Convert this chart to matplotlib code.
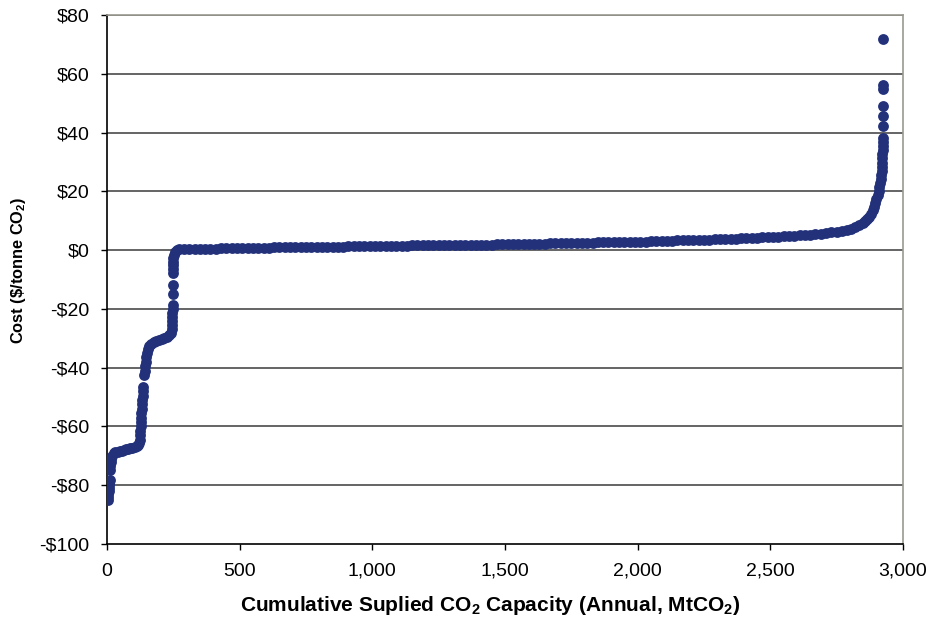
import matplotlib
matplotlib.use('Agg')
import matplotlib.pyplot as plt
from matplotlib.ticker import FuncFormatter

plt.rcParams['font.family'] = ['Liberation Sans', 'DejaVu Sans']
plt.rcParams['mathtext.fontset'] = 'custom'
plt.rcParams['mathtext.rm'] = 'Liberation Sans'
plt.rcParams['mathtext.bf'] = 'Liberation Sans:bold'

# cumulative capacity (MtCO2) and cost ($/tonne CO2)
capacity = [3, 4, 5, 6, 7, 8, 9, 10, 12, 13, 14, 16, 20, 26,
            32, 40, 48, 56, 64, 72, 80, 88, 96, 104, 112, 118, 122,
            124, 125, 126, 127, 128, 129, 130, 131, 132, 133, 134, 135, 137,
            140, 142, 144, 146, 148, 151, 155, 160, 167, 176, 186, 196, 206,
            216, 226, 234, 240, 244, 245, 246, 246, 246, 247, 247,
            247, 247,
            247, 247, 248, 248, 249, 251, 255, 262,
            270, 290, 310, 330, 350, 370, 390, 410, 430, 450, 470, 490, 510,
            530, 550, 570, 590, 610, 630, 650, 670, 690, 710, 730, 750, 770,
            790, 810, 830, 850, 870, 890, 910, 930, 950, 970, 990,
            1010, 1030, 1050, 1070, 1090, 1110, 1130, 1150, 1170, 1190, 1210,
            1230, 1250, 1270, 1290, 1310, 1330, 1350, 1370, 1390, 1410, 1430,
            1450, 1470, 1490,
            1510, 1530, 1550, 1570, 1590, 1610, 1630, 1650, 1670, 1690, 1710,
            1730, 1750, 1770, 1790, 1810, 1830, 1850, 1870, 1890, 1910, 1930,
            1950, 1970, 1990,
            2010, 2030, 2050, 2070, 2090, 2110, 2130, 2150, 2170, 2190, 2210,
            2230, 2250, 2270, 2290, 2310, 2330, 2350, 2370, 2390, 2410, 2430,
            2450, 2470, 2490,
            2510, 2530, 2550, 2570, 2590, 2610, 2630, 2650, 2670, 2690, 2710,
            2730, 2750, 2770, 2790,
            2805, 2820, 2835, 2848, 2858, 2866, 2873, 2880, 2886, 2891, 2896,
            2900, 2904, 2908, 2911, 2914, 2916, 2918, 2919, 2920, 2921, 2922,
            2922, 2923, 2923, 2923, 2924,
            2924, 2924, 2924, 2924, 2924, 2924]
cost = [-85, -84, -83, -82, -81, -80, -79, -78.2, -74.8, -73.5, -72.2, -71, -70, -69.2,
        -68.8, -68.6, -68.4, -68.2, -68.0, -67.8, -67.6, -67.4, -67.2, -67.0, -66.7, -66.3, -65.5,
        -64.5, -63, -61.5, -60, -58.5, -57, -55.5, -54, -52.5, -51, -49.5, -48, -46.5,
        -42.5, -41, -39.5, -38, -36.5, -35, -33.6, -32.6, -31.8, -31.2, -30.8, -30.5, -30.2,
        -29.9, -29.5, -29, -28.2, -27, -25.6, -24.2, -22.8, -21.4, -20, -18.8,
        -15, -12,
        -7.8, -6.5, -5.2, -3.9, -2.7, -1.6, -0.6, 0.0,
        0.3, 0.3, 0.4, 0.4, 0.4, 0.5, 0.5, 0.5, 0.6, 0.6, 0.6, 0.7, 0.7,
        0.7, 0.7, 0.8, 0.8, 0.8, 0.9, 0.9, 0.9, 0.9, 1.0, 1.0, 1.0, 1.1,
        1.1, 1.1, 1.1, 1.2, 1.2, 1.2, 1.3, 1.3, 1.3, 1.3, 1.4,
        1.4, 1.4, 1.4, 1.5, 1.5, 1.5, 1.5, 1.6, 1.6, 1.6, 1.6,
        1.7, 1.7, 1.7, 1.7, 1.8, 1.8, 1.8, 1.8, 1.9, 1.9, 1.9,
        1.9, 2.0, 2.0,
        2.0, 2.0, 2.1, 2.1, 2.1, 2.2, 2.2, 2.2, 2.3, 2.3, 2.3,
        2.4, 2.4, 2.4, 2.5, 2.5, 2.5, 2.6, 2.6, 2.6, 2.7, 2.7,
        2.7, 2.8, 2.8,
        2.8, 2.9, 3.0, 3.0, 3.1, 3.1, 3.2, 3.3, 3.3, 3.4, 3.4,
        3.5, 3.6, 3.6, 3.7, 3.7, 3.8, 3.9, 3.9, 4.0, 4.0, 4.1,
        4.2, 4.3, 4.4,
        4.5, 4.6, 4.7, 4.8, 4.9, 5.0, 5.2, 5.3, 5.4, 5.6, 5.8,
        6.0, 6.3, 6.6, 6.9,
        7.3, 7.8, 8.4, 9.1, 9.8, 10.6, 11.4, 12.4, 13.5, 14.7, 16.0,
        17.3, 18.7, 20.0, 21.4, 22.8, 24.2, 25.6, 27.0, 28.4, 29.8, 31.2,
        32.6, 34.0, 35.4, 36.8, 38.2,
        42.4, 45.6, 49.2, 54.7, 56.3, 72.0]

x_ticks = [0, 500, 1000, 1500, 2000, 2500, 3000]
y_ticks = [-100, -80, -60, -40, -20, 0, 20, 40, 60, 80]

fig = plt.figure(figsize=(9.32, 6.22), dpi=100)
ax = fig.add_axes([107/932, 1-544/622, (903-107)/932, (544-15)/622])

for y in y_ticks[1:]:
    ax.axhline(y, color='#3a3a3a', lw=1.1, zorder=1)

ax.plot(capacity, cost, 'o', ls='none', ms=7.8, color='#22317a',
        markeredgewidth=0, zorder=3)

ax.set_xlim(0, 3000)
ax.set_ylim(-100, 80)
ax.set_xticks(x_ticks)
ax.set_yticks(y_ticks)
ax.xaxis.set_major_formatter(FuncFormatter(lambda v, p: f'{int(v):,}'))
ax.yaxis.set_major_formatter(FuncFormatter(
    lambda v, p: f'${int(v)}' if v >= 0 else f'-${int(-v)}'))
ax.tick_params(direction='out', length=4.5, width=1, labelsize=14,
               color='black')
ax.tick_params(axis='y', pad=8)
ax.tick_params(axis='x', pad=9)

for s in ['left', 'bottom']:
    ax.spines[s].set_color('black')
    ax.spines[s].set_linewidth(1.2)
for s in ['top', 'right']:
    ax.spines[s].set_color('#9a9a90')
    ax.spines[s].set_linewidth(1.2)

ax.set_xlabel(r'Cumulative Suplied CO$_\mathbf{2}$ Capacity (Annual, MtCO$_\mathbf{2}$)',
              fontsize=15, fontweight='bold', va='center')
ax.xaxis.set_label_coords(0.481, -0.117)
ax.set_ylabel(r'Cost (\$/tonne CO$_\mathbf{2}$)', fontsize=11.8,
              fontweight='bold', va='center')
ax.yaxis.set_label_coords(-0.111, 0.518)

fig.savefig('out.png', dpi=100, facecolor='white')
